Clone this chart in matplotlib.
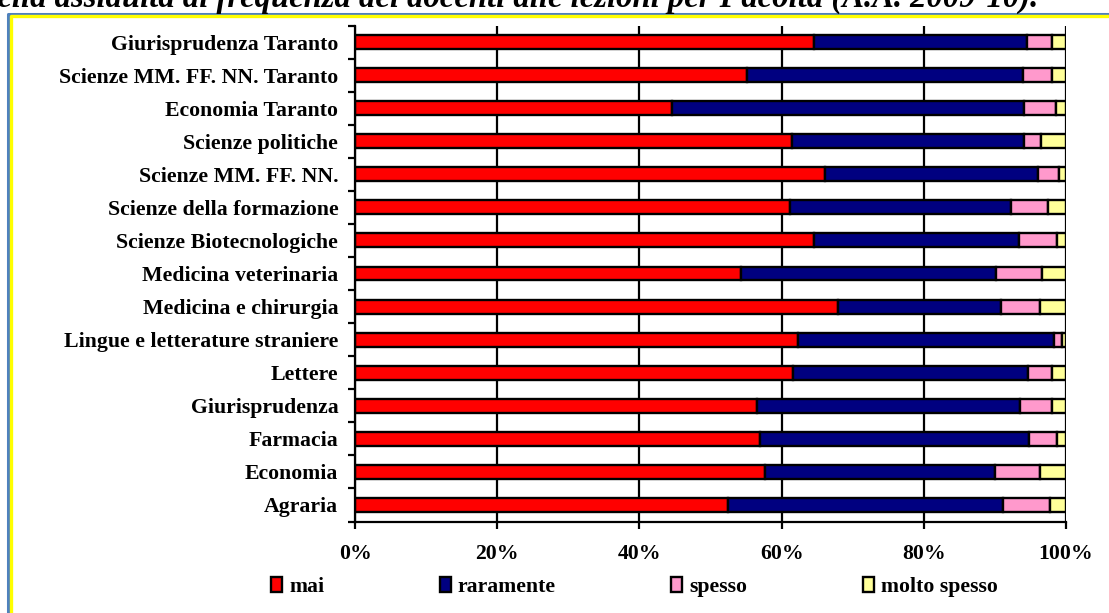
import matplotlib
matplotlib.use('Agg')
import matplotlib.pyplot as plt
import numpy as np
from matplotlib.lines import Line2D

# facolta, dal basso verso l'alto
facolta = ['Agraria', 'Economia', 'Farmacia', 'Giurisprudenza', 'Lettere',
           'Lingue e letterature straniere', 'Medicina e chirurgia',
           'Medicina veterinaria', 'Scienze Biotecnologiche',
           'Scienze della formazione', 'Scienze MM. FF. NN.',
           'Scienze politiche', 'Economia Taranto',
           'Scienze MM. FF. NN. Taranto', 'Giurisprudenza Taranto']

mai = [52.4, 57.6, 57.0, 56.6, 61.6, 62.3, 68.0, 54.3, 64.5, 61.2, 66.1, 61.4, 44.6, 55.2, 64.6]
raramente = [38.8, 32.4, 37.8, 37.0, 33.0, 36.0, 22.8, 35.8, 28.9, 31.1, 30.0, 32.7, 49.5, 38.8, 29.9]
spesso = [6.5, 6.4, 3.9, 4.5, 3.5, 1.1, 5.5, 6.5, 5.3, 5.1, 2.9, 2.4, 4.5, 4.0, 3.6]
molto_spesso = [2.3, 3.6, 1.3, 1.9, 1.9, 0.6, 3.7, 3.4, 1.3, 2.6, 1.0, 3.5, 1.4, 2.0, 1.9]

serie = [mai, raramente, spesso, molto_spesso]
nomi = ['mai', 'raramente', 'spesso', 'molto spesso']
colori = ['#FF0000', '#000080', '#FF99CC', '#FFFF99']

plt.rcParams['font.family'] = ['Liberation Serif', 'DejaVu Serif']
plt.rcParams['font.weight'] = 'bold'
fs = 15.7

fig = plt.figure(figsize=(11.09, 6.13), dpi=100)
W, H = 1109, 613
ax = fig.add_axes([355 / W, 1 - 521.5 / H, 711 / W, 496 / H])

y = np.arange(len(facolta))
left = np.zeros(len(facolta))
for vals, nome, col in zip(serie, nomi, colori):
    vals = np.array(vals)
    ax.barh(y, vals, left=left, height=0.42, color=col, edgecolor='black',
            linewidth=1.7, label=nome, zorder=3)
    left += vals

ax.set_xlim(0, 100)
ax.set_ylim(-0.5, len(facolta) - 0.5)
ax.set_xticks([0, 20, 40, 60, 80, 100])
ax.set_xticklabels(['0%', '20%', '40%', '60%', '80%', '100%'], fontsize=fs, fontweight='bold')
ax.set_yticks(y)
ax.set_yticklabels(facolta, fontsize=fs, fontweight='bold')
ax.set_yticks(np.arange(-0.5, len(facolta)), minor=True)
ax.tick_params(axis='y', which='major', length=0, pad=12)
ax.tick_params(axis='y', which='minor', length=5, width=1.6, direction='out')
ax.tick_params(axis='x', length=5, width=1.6, direction='out', pad=11)
ax.xaxis.grid(True, color='black', linewidth=1.6, zorder=0)
ax.set_axisbelow(True)
for s in ['top', 'right']:
    ax.spines[s].set_visible(False)
for s in ['left', 'bottom']:
    ax.spines[s].set_linewidth(1.6)
    ax.spines[s].set_zorder(4)

leg = fig.legend(loc='center', bbox_to_anchor=(634.5 / W, 1 - 587 / H), ncol=4,
                 frameon=False, fontsize=fs, handlelength=0.5, handleheight=0.7,
                 handletextpad=0.33, columnspacing=5.3)
for t in leg.get_texts():
    t.set_fontweight('bold')

# cornice
fig.add_artist(Line2D([8 / W, 8 / W, 1.01], [-0.01, 1 - 13.5 / H, 1 - 13.5 / H],
                      transform=fig.transFigure, color='#4F81BD', linewidth=2.2))
fig.add_artist(Line2D([11 / W, 11 / W, 1.01], [-0.01, 1 - 16 / H, 1 - 16 / H],
                      transform=fig.transFigure, color='#FFFF00', linewidth=2.4))

# titolo, tagliato in alto come nell'originale
fig.text(1038 / W, 1 - 7 / H,
         "della assiduità di frequenza dei docenti alle lezioni per Facoltà (A.A. 2009-10).",
         ha='right', va='baseline', fontsize=23.5, fontweight='bold', fontstyle='italic')

fig.savefig('out.png', dpi=100)
